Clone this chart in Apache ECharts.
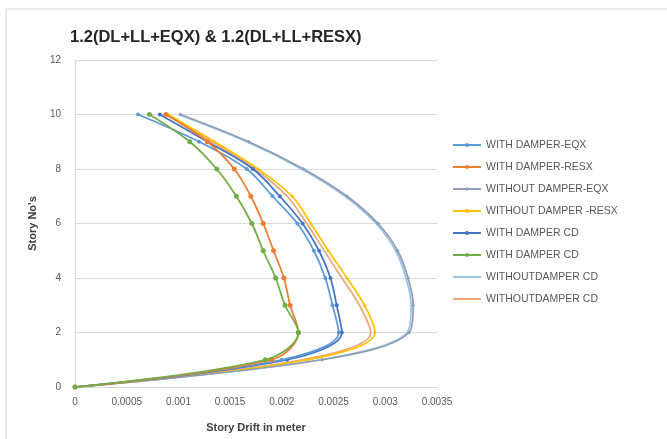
<!DOCTYPE html>
<html>
<head>
<meta charset="utf-8">
<script src="https://cdn.jsdelivr.net/npm/echarts@6/dist/echarts.min.js"></script>
<style>
  html, body { margin: 0; padding: 0; background: #ffffff; }
  #chart { width: 667px; height: 439px; }
</style>
</head>
<body>
<div id="chart"></div>
<script>
// Story levels (0 = base, 10 = roof)
const stories = [0, 1, 2, 3, 4, 5, 6, 7, 8, 9, 10];

// Story drift (m) per story for each case
const withDamperEqx      = [0, 0.00200, 0.00255, 0.00249, 0.00242, 0.00231, 0.00215, 0.00191, 0.00166, 0.00120, 0.00061];
const withDamperResx     = [0, 0.00190, 0.00216, 0.00208, 0.00202, 0.00192, 0.00182, 0.00170, 0.00154, 0.00128, 0.00088];
const withoutDamperEqx   = [0, 0.00239, 0.00323, 0.00327, 0.00322, 0.00312, 0.00293, 0.00263, 0.00221, 0.00168, 0.00102];
const withoutDamperResx  = [0, 0.00225, 0.00290, 0.00280, 0.00263, 0.00245, 0.00228, 0.00210, 0.00177, 0.00135, 0.00090];
const withDamperCdA      = [0, 0.00205, 0.00258, 0.00253, 0.00247, 0.00236, 0.00220, 0.00198, 0.00172, 0.00128, 0.00082];
const withDamperCdB      = [0, 0.00184, 0.00216, 0.00203, 0.00194, 0.00182, 0.00171, 0.00156, 0.00137, 0.00111, 0.00072];
const withoutDamperCdA   = [0, 0.00237, 0.00321, 0.00325, 0.00320, 0.00310, 0.00291, 0.00261, 0.00219, 0.00166, 0.00100];
const withoutDamperCdB   = [0, 0.00220, 0.00286, 0.00275, 0.00258, 0.00241, 0.00224, 0.00205, 0.00174, 0.00132, 0.00088];

const seriesNames = [
  'WITH DAMPER-EQX',
  'WITH DAMPER-RESX',
  'WITHOUT DAMPER-EQX',
  'WITHOUT DAMPER -RESX',
  'WITH DAMPER CD',
  'WITH DAMPER CD ',
  'WITHOUTDAMPER CD',
  'WITHOUTDAMPER CD '
];
const legendLabels = [
  'WITH DAMPER-EQX',
  'WITH DAMPER-RESX',
  'WITHOUT DAMPER-EQX',
  'WITHOUT DAMPER -RESX',
  'WITH DAMPER CD',
  'WITH DAMPER CD',
  'WITHOUTDAMPER CD',
  'WITHOUTDAMPER CD'
];
const seriesData = [
  withDamperEqx, withDamperResx, withoutDamperEqx, withoutDamperResx,
  withDamperCdA, withDamperCdB, withoutDamperCdA, withoutDamperCdB
];

const colors  = ['#5B9BD5', '#ED7D31', '#8E9FB5', '#FFC000', '#4472C4', '#70AD47', '#9DC3E6', '#E8A87C'];
const symbols = ['circle', 'circle', 'diamond', 'circle', 'circle', 'circle', 'none', 'none'];
const symSize = [4, 5, 4, 3, 4, 5, 0, 0];
const zOrder  = [6, 7, 4, 3, 5, 8, 2, 1];

const FONT = 'Liberation Sans, Arial, sans-serif';

const chart = echarts.init(document.getElementById('chart'), null, { renderer: 'canvas' });

const series = seriesNames.map((name, i) => ({
  name: name,
  type: 'line',
  smooth: 0.35,
  data: seriesData[i].map((d, k) => [d, stories[k]]),
  symbol: symbols[i],
  symbolSize: symSize[i],
  showSymbol: symbols[i] !== 'none',
  z: zOrder[i],
  lineStyle: { color: colors[i], width: 1.75 },
  itemStyle: { color: colors[i] },
  emphasis: { disabled: true }
}));

// Legend entries: lines without markers get a hidden symbol
const legendData = seriesNames.map((name, i) => (
  symbols[i] === 'none' ? { name: name, itemStyle: { opacity: 0 } } : { name: name }
));

chart.setOption({
  animation: false,
  backgroundColor: '#ffffff',
  graphic: [{
    type: 'rect',
    shape: { x: 6, y: 9, width: 700, height: 500 },
    style: { fill: 'none', stroke: '#d4d4d4', lineWidth: 1 },
    silent: true,
    z: -10
  }],
  title: {
    text: '1.2(DL+LL+EQX) & 1.2(DL+LL+RESX)',
    left: 65,
    top: 24,
    textStyle: { fontFamily: FONT, fontSize: 16.5, fontWeight: 'bold', color: '#262626' }
  },
  legend: {
    orient: 'vertical',
    left: 447,
    top: 133,
    itemWidth: 28,
    itemHeight: 5,
    itemGap: 8,
    data: legendData,
    formatter: name => legendLabels[seriesNames.indexOf(name)],
    textStyle: { fontFamily: FONT, fontSize: 10.5, color: '#595959', lineHeight: 14 }
  },
  grid: { left: 75, right: 230, top: 60, bottom: 52, containLabel: false },
  xAxis: {
    type: 'value',
    min: 0,
    max: 0.0035,
    interval: 0.0005,
    name: 'Story Drift in meter',
    nameLocation: 'middle',
    nameGap: 35,
    nameTextStyle: { fontFamily: FONT, fontSize: 11, fontWeight: 'bold', color: '#404040' },
    axisLine: { show: true, lineStyle: { color: '#d9d9d9' } },
    axisTick: { show: false },
    splitLine: { show: false },
    axisLabel: { fontFamily: FONT, fontSize: 10, color: '#595959', margin: 10 }
  },
  yAxis: {
    type: 'value',
    min: 0,
    max: 12,
    interval: 2,
    name: "Story No's",
    nameLocation: 'middle',
    nameGap: 37,
    nameTextStyle: { fontFamily: FONT, fontSize: 11, fontWeight: 'bold', color: '#404040' },
    axisLine: { show: true, lineStyle: { color: '#d9d9d9' } },
    axisTick: { show: false },
    splitLine: { show: true, lineStyle: { color: '#d9d9d9' } },
    axisLabel: { fontFamily: FONT, fontSize: 10, color: '#595959', margin: 14 }
  },
  series: series
});
</script>
</body>
</html>
